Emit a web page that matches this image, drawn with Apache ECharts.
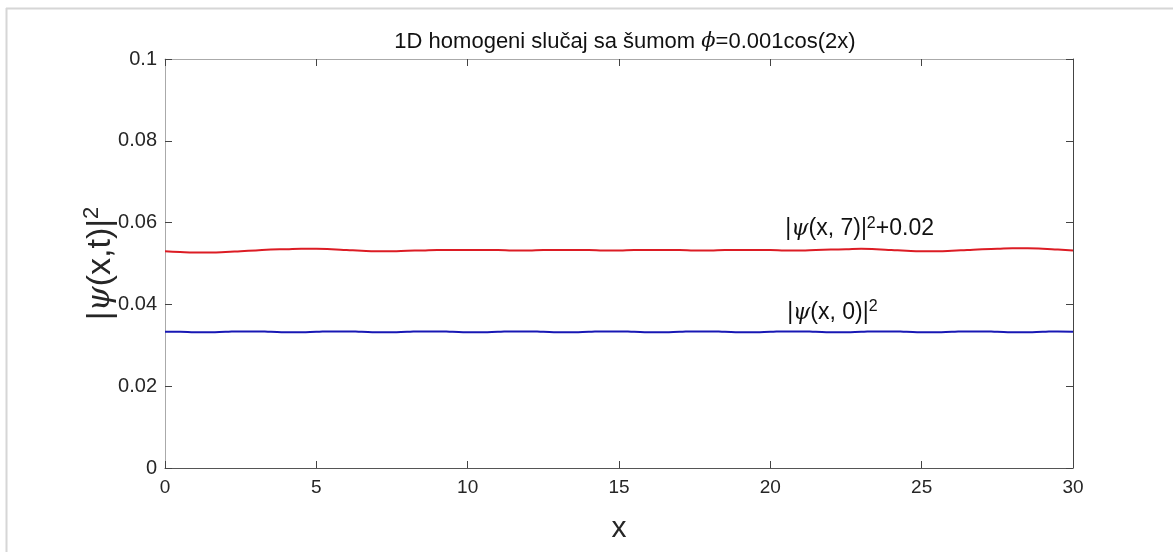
<!DOCTYPE html>
<html><head><meta charset="utf-8">
<script src="https://cdn.jsdelivr.net/npm/echarts@6/dist/echarts.min.js"></script>
<style>html,body{margin:0;padding:0;background:#fff}#c{width:1173px;height:552px}</style>
</head><body><div id="c"></div>
<script>
const xValues = [0,0.5,1,1.5,2,2.5,3,3.5,4,4.5,5,5.5,6,6.5,7,7.5,8,8.5,9,9.5,10,10.5,11,11.5,12,12.5,13,13.5,14,14.5,15,15.5,16,16.5,17,17.5,18,18.5,19,19.5,20,20.5,21,21.5,22,22.5,23,23.5,24,24.5,25,25.5,26,26.5,27,27.5,28,28.5,29,29.5,30];
const redValues = [0.0530,0.0528,0.0527,0.0527,0.0528,0.0530,0.0532,0.0534,0.0535,0.0536,0.0536,0.0535,0.0533,0.0531,0.0530,0.0530,0.0531,0.0532,0.0533,0.0533,0.0533,0.0533,0.0533,0.0532,0.0532,0.0533,0.0533,0.0533,0.0533,0.0532,0.0532,0.0533,0.0533,0.0533,0.0533,0.0532,0.0532,0.0533,0.0533,0.0533,0.0533,0.0532,0.0532,0.0533,0.0534,0.0535,0.0536,0.0535,0.0533,0.0531,0.0530,0.0530,0.0531,0.0533,0.0535,0.0536,0.0537,0.0537,0.0536,0.0534,0.0532];
const blueValues = [0.0333,0.0333,0.0332,0.0332,0.0333,0.0334,0.0334,0.0333,0.0332,0.0332,0.0333,0.0334,0.0334,0.0333,0.0332,0.0332,0.0333,0.0334,0.0334,0.0333,0.0332,0.0332,0.0333,0.0334,0.0334,0.0333,0.0332,0.0332,0.0333,0.0334,0.0334,0.0333,0.0332,0.0332,0.0333,0.0334,0.0334,0.0333,0.0332,0.0332,0.0333,0.0334,0.0334,0.0333,0.0332,0.0332,0.0333,0.0334,0.0334,0.0333,0.0332,0.0332,0.0333,0.0334,0.0334,0.0333,0.0332,0.0332,0.0333,0.0334,0.0333];
const xTicks = [0,5,10,15,20,25,30];
const yTicks = [0,0.02,0.04,0.06,0.08,0.1];
const titleText = ['1D homogeni slučaj sa šumom ', 'ϕ', '=0.001cos(2x)'];
const redLabelPos = [22.95, 0.0584];
const blueLabelPos = [22.05, 0.0379];

const FONT = '"Liberation Sans", Arial, sans-serif';
const TXT = '#262626';
const chart = echarts.init(document.getElementById('c'));
const axisCommon = {
  axisTick: {inside: true, length: 7, lineStyle: {color: '#444', width: 1}},
  splitLine: {show: false}
};
chart.setOption({
  animation: false,
  backgroundColor: '#fff',
  title: {
    text: '{n|' + titleText[0] + '}{i|' + titleText[1] + '}{n|' + titleText[2] + '}',
    left: 620, top: 26, textAlign: 'center',
    textStyle: {fontWeight: 'normal', rich: {
      n: {fontFamily: FONT, fontSize: 22, fontWeight: 'normal', color: '#111'},
      i: {fontFamily: '"DejaVu Serif", serif', fontStyle: 'italic', fontWeight: 'normal', fontSize: 21, color: '#111'}
    }}
  },
  graphic: [
    {type: 'line', shape: {x1: 6, y1: 8.5, x2: 1173, y2: 8.5}, style: {stroke: '#d6d6d6', lineWidth: 2}},
    {type: 'line', shape: {x1: 6.5, y1: 8, x2: 6.5, y2: 552}, style: {stroke: '#d6d6d6', lineWidth: 2}}
  ],
  grid: {left: 165, right: 100, top: 59, bottom: 84, containLabel: false},
  xAxis: [
    Object.assign({}, axisCommon, {
      type: 'value', min: 0, max: 30, interval: 5, position: 'bottom',
      axisLine: {onZero: false, lineStyle: {color: '#555', width: 1}},
      axisLabel: {fontFamily: FONT, fontSize: 19, color: TXT, margin: 10},
      name: 'x', nameLocation: 'middle', nameGap: 46, nameMoveOverlap: false,
      nameTextStyle: {fontFamily: FONT, fontSize: 30, color: TXT}
    }),
    Object.assign({}, axisCommon, {
      type: 'value', min: 0, max: 30, interval: 5, position: 'top',
      axisLine: {onZero: false, lineStyle: {color: '#aaa', width: 1}},
      axisLabel: {show: false}
    })
  ],
  yAxis: [
    Object.assign({}, axisCommon, {
      type: 'value', min: 0, max: 0.1, interval: 0.02, position: 'left',
      axisLine: {show: true, onZero: false, lineStyle: {color: '#aaa', width: 1}},
      axisLabel: {fontFamily: FONT, fontSize: 20, color: TXT, margin: 8,
        formatter: v => { const t = yTicks.find(k => Math.abs(k - v) < 1e-9); return t === undefined ? '' : String(+t.toFixed(2)); }},
      name: '{n||}{i|ψ}{n|(x,t)|}{s|2}', nameLocation: 'middle', nameGap: 45, nameRotate: 90, nameMoveOverlap: false,
      nameTextStyle: {rich: {
        n: {fontFamily: FONT, fontSize: 34, color: TXT},
        i: {fontFamily: '"DejaVu Serif", serif', fontStyle: 'italic', fontSize: 32, color: TXT},
        s: {fontFamily: FONT, fontSize: 22, color: TXT, verticalAlign: 'top', padding: [0, 0, 17, 0]}
      }}
    }),
    Object.assign({}, axisCommon, {
      type: 'value', min: 0, max: 0.1, interval: 0.02, position: 'right',
      axisLine: {show: true, onZero: false, lineStyle: {color: '#444', width: 1}},
      axisLabel: {show: false}
    })
  ],
  series: [
    {type: 'line', name: 'red', showSymbol: false, symbol: 'none', smooth: true,
     data: xValues.map((x, i) => [x, redValues[i]]),
     lineStyle: {color: '#dc1c24', width: 2}},
    {type: 'line', name: 'blue', showSymbol: false, symbol: 'none', smooth: true,
     data: xValues.map((x, i) => [x, blueValues[i]]),
     lineStyle: {color: '#1818b4', width: 2}},
    {type: 'scatter', symbolSize: 0, silent: true, itemStyle: {opacity: 1},
     data: [
       {value: redLabelPos, label: {formatter: '{n||}{i|ψ}{n|(x, 7)|}{s|2}{n|+0.02}'}},
       {value: blueLabelPos, label: {formatter: '{n||}{i|ψ}{n|(x, 0)|}{s|2}'}}
     ],
     label: {show: true, position: 'inside', opacity: 1, rich: {
       n: {fontFamily: FONT, fontSize: 23, color: '#111'},
       i: {fontFamily: '"DejaVu Serif", serif', fontStyle: 'italic', fontSize: 22, color: '#111'},
       s: {fontFamily: FONT, fontSize: 16, color: '#111', verticalAlign: 'top', padding: [0, 0, 12, 0]}
     }}}
  ]
});
</script></body></html>
